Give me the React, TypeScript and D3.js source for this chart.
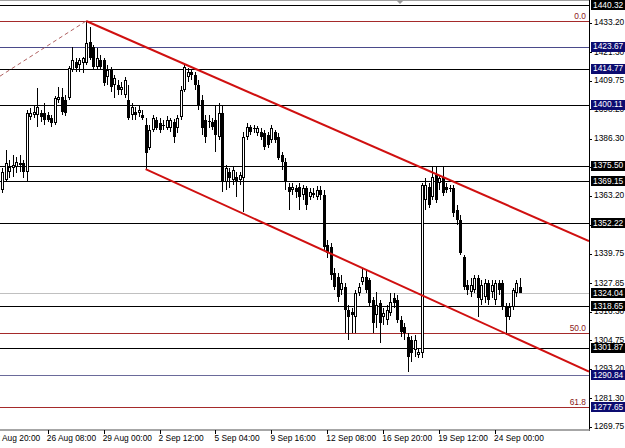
import React from "react";
import * as d3 from "d3";

// ---- data (XAUUSD H4, prices) ----
const opens = [1365.6,1369.7,1372.9,1374.5,1374.9,1376.5,1376.5,1372.9,1395.2,1396.0,1396.0,1396.8,1396.8,1396.0,1394.8,1392.7,1402.0,1403.3,1402.0,1402.9,1414.2,1417.4,1416.2,1417.0,1417.0,1425.5,1423.5,1415.4,1418.2,1418.2,1411.3,1414.2,1408.1,1408.1,1406.1,1404.1,1402.0,1396.0,1397.2,1396.8,1396.0,1391.9,1382.6,1389.9,1394.0,1392.7,1391.5,1390.7,1390.7,1393.1,1390.7,1395.2,1406.1,1411.3,1413.4,1412.2,1408.1,1402.0,1394.0,1393.1,1393.1,1394.0,1387.1,1396.8,1368.9,1372.9,1369.7,1370.9,1369.7,1370.5,1387.1,1391.1,1390.7,1388.7,1389.1,1388.7,1387.9,1385.9,1389.1,1387.1,1379.8,1377.0,1366.8,1365.6,1366.4,1366.8,1363.6,1366.4,1362.8,1364.4,1362.8,1365.6,1363.6,1343.4,1342.6,1332.0,1330.4,1325.2,1326.4,1317.1,1316.3,1314.2,1324.0,1328.4,1330.4,1329.2,1321.1,1315.1,1319.9,1314.2,1313.0,1315.9,1322.0,1321.1,1313.0,1310.2,1306.2,1304.9,1300.9,1298.9,1299.7,1361.6,1366.8,1362.8,1371.7,1368.5,1370.9,1366.8,1366.4,1366.4,1357.5,1353.5,1338.5,1327.2,1324.4,1325.2,1330.0,1321.1,1322.3,1328.0,1324.4,1321.1,1328.0,1328.0,1318.3,1314.2,1318.3,1324.0,1326.4];
const highs = [1374.5,1381.8,1377.8,1379.8,1379.0,1379.8,1377.8,1398.0,1398.8,1400.0,1406.9,1398.0,1400.8,1397.2,1396.0,1403.7,1407.3,1406.9,1404.1,1415.8,1423.5,1419.0,1419.0,1419.4,1434.0,1431.6,1424.3,1423.1,1420.2,1419.0,1416.2,1415.4,1412.2,1410.1,1409.3,1411.3,1408.1,1400.8,1399.2,1400.0,1398.0,1394.8,1391.9,1396.0,1395.2,1394.8,1394.0,1395.6,1394.8,1394.4,1396.0,1407.7,1416.2,1415.0,1414.2,1413.4,1410.1,1404.1,1396.0,1396.0,1394.8,1400.0,1400.8,1400.0,1375.7,1374.5,1374.9,1372.9,1372.9,1389.1,1392.7,1391.9,1391.9,1391.5,1390.7,1389.9,1389.1,1391.9,1389.9,1388.7,1381.0,1378.6,1368.5,1368.5,1367.7,1368.5,1367.7,1367.2,1366.4,1366.4,1367.2,1367.2,1365.6,1345.4,1344.2,1334.1,1332.0,1331.2,1328.0,1319.1,1317.9,1325.2,1328.0,1334.1,1333.3,1330.0,1322.3,1324.4,1321.1,1317.9,1319.1,1324.0,1324.0,1323.1,1314.6,1311.8,1307.8,1306.6,1307.0,1301.7,1368.5,1370.5,1368.5,1374.9,1374.9,1371.7,1374.9,1368.5,1367.7,1367.7,1359.6,1355.5,1339.3,1329.2,1330.0,1331.2,1331.2,1329.2,1329.6,1329.2,1329.2,1329.2,1329.2,1329.2,1319.9,1319.9,1326.0,1329.2,1330.0];
const lows = [1364.4,1368.9,1370.5,1370.9,1372.5,1372.9,1370.5,1368.9,1394.0,1394.8,1391.1,1393.1,1391.9,1393.1,1391.1,1391.9,1400.8,1396.0,1395.6,1402.0,1413.4,1413.4,1413.4,1413.0,1416.2,1418.2,1414.6,1414.6,1414.2,1407.7,1408.1,1405.3,1402.9,1404.1,1404.1,1402.9,1394.0,1394.0,1394.0,1395.2,1394.0,1374.1,1381.8,1389.1,1389.9,1388.7,1389.9,1389.9,1389.1,1384.6,1388.7,1394.0,1405.3,1409.3,1410.1,1406.1,1398.0,1387.9,1384.6,1390.7,1389.9,1381.0,1385.9,1364.8,1365.6,1366.4,1367.7,1362.8,1367.7,1356.7,1385.9,1387.9,1388.7,1387.5,1385.9,1381.8,1382.6,1384.6,1384.6,1377.8,1373.7,1365.6,1357.5,1363.6,1362.4,1357.5,1361.6,1357.5,1361.6,1362.4,1361.6,1361.6,1341.3,1338.1,1329.2,1325.2,1320.3,1323.1,1307.8,1304.9,1307.8,1307.8,1322.7,1327.2,1324.0,1318.7,1307.8,1309.8,1303.7,1311.0,1311.0,1314.6,1317.9,1311.8,1306.2,1304.9,1292.0,1296.0,1298.1,1297.7,1297.7,1357.5,1358.3,1361.6,1360.4,1365.6,1363.2,1364.4,1364.8,1354.7,1351.5,1339.3,1325.2,1323.1,1322.3,1324.0,1314.2,1319.1,1319.9,1319.1,1322.0,1319.1,1323.1,1317.1,1307.0,1313.0,1317.1,1322.3,1324.0];
const closes = [1372.9,1376.5,1374.9,1375.7,1377.0,1375.7,1372.9,1396.8,1396.8,1397.2,1399.2,1395.2,1394.0,1394.0,1392.7,1402.9,1403.3,1397.2,1396.8,1415.0,1418.2,1415.0,1418.2,1419.0,1425.1,1419.0,1415.4,1419.0,1415.4,1408.9,1414.2,1407.3,1410.9,1406.1,1407.3,1410.1,1394.8,1399.2,1396.0,1398.0,1394.8,1380.6,1389.9,1394.8,1390.7,1389.9,1391.9,1394.0,1394.0,1387.1,1394.8,1406.1,1415.4,1413.4,1412.2,1408.1,1400.0,1390.7,1387.1,1393.5,1391.1,1387.9,1396.8,1368.9,1374.5,1370.5,1373.7,1368.9,1371.7,1387.1,1391.1,1389.1,1390.3,1390.7,1387.1,1383.0,1383.8,1390.7,1385.9,1378.6,1377.0,1368.9,1364.8,1366.8,1364.8,1362.8,1366.4,1359.6,1364.8,1363.6,1365.6,1363.6,1342.6,1340.1,1331.2,1326.4,1322.3,1328.0,1317.1,1314.2,1315.1,1324.0,1326.4,1330.4,1325.2,1319.9,1311.8,1319.1,1311.8,1315.9,1317.1,1320.3,1319.9,1313.0,1308.2,1307.8,1298.1,1299.7,1304.9,1300.1,1367.7,1367.7,1359.6,1370.9,1361.6,1370.5,1364.4,1365.6,1366.0,1356.3,1353.5,1340.1,1326.4,1325.2,1327.2,1330.0,1322.0,1327.2,1328.0,1321.1,1327.2,1328.0,1325.2,1318.3,1314.2,1318.3,1325.2,1328.0,1324.04];

const timeLabels = ["22 Aug 20:00","26 Aug 08:00","29 Aug 00:00","2 Sep 12:00","5 Sep 04:00","9 Sep 16:00","12 Sep 08:00","16 Sep 20:00","19 Sep 12:00","24 Sep 00:00"];
const timeLabelBars = [-3, 13, 29, 45, 61, 77, 93, 109, 125, 141];

const priceTicks = [1433.20,1421.30,1409.75,1398.20,1386.30,1374.75,1363.20,1351.30,1339.75,1327.85,1316.30,1304.75,1293.20,1281.30,1269.75];

const levelPrices = [1440.32,1423.67,1414.77,1400.11,1375.50,1369.15,1352.22,1324.04,1318.65,1301.87,1290.84,1277.65];

const fibLevels = [0, 50, 61.8];
const fibHigh = { bar: 24, price: 1434.0 };
const fibLow = { bar: -255, price: 1181.6 };

const upperChannel = [{ bar: 24, price: 1434.0 }, { bar: 148, price: 1357.3 }];
const lowerChannel = [{ bar: 41, price: 1374.1 }, { bar: 148, price: 1305.0 }];

// ---- styles ----
const levelLineColors = ["#000","#4a4a8a","#000","#000","#000","#000","#000","#c0c0c0","#000","#000","#6a6a9a","#101040"];
const levelBoxColors = ["#000","#0c0c70","#0c0c70","#0c0c70","#000","#000","#000","#000","#000","#000","#0c0c70","#0c0c70"];

const W = 625, H = 448;
const PR = 589, PB = 429;
const FONT = "'Liberation Sans', Arial, sans-serif";
const FS = 8.4;

export default function App() {
  const N = opens.length;
  const x = d3.scaleLinear().domain([0, N - 1]).range([2.3, 2.3 + 3.495 * (N - 1)]);
  const y = d3.scaleLinear().domain([1268.94, 1442.5]).range([PB, 0]);
  const rightBar = x.invert(PR);
  const leftBar = x.invert(0);

  const extend = (a: { bar: number; price: number }, b: { bar: number; price: number }, from: number, to: number) => {
    const s = (b.price - a.price) / (b.bar - a.bar);
    return [from, a.price + s * (from - a.bar), to, a.price + s * (to - a.bar)];
  };
  const up = extend(upperChannel[0], upperChannel[1], upperChannel[0].bar, rightBar);
  const lo = extend(lowerChannel[0], lowerChannel[1], lowerChannel[0].bar, rightBar);
  const fibDash = extend(fibLow, fibHigh, leftBar, fibHigh.bar);
  const fibPrice = (l: number) => fibHigh.price - (l / 100) * (fibHigh.price - fibLow.price);
  const line = d3.line<[number, number]>();

  const crisp = (v: number) => Math.round(v) + 0.5;

  return (
    <svg width={W} height={H} style={{ position: "absolute", left: 0, top: 0, background: "#fff" }} fontFamily={FONT}>
      <defs>
        <clipPath id="plot"><rect x={0} y={0} width={PR} height={PB + 1} /></clipPath>
      </defs>
      <rect x={0} y={0} width={W} height={H} fill="#fff" />
      <line x1={0} x2={PR} y1={0.5} y2={0.5} stroke="#a0a0a0" />
      <g clipPath="url(#plot)">
        {levelPrices.map((p, k) => (
          <line key={"lv" + k} x1={0} x2={PR} y1={crisp(y(p))} y2={crisp(y(p))} stroke={levelLineColors[k]} strokeWidth={1} shapeRendering="crispEdges" />
        ))}
        {fibLevels.map((l, k) => (
          <line key={"fb" + k} x1={0} x2={PR} y1={crisp(y(fibPrice(l)))} y2={crisp(y(fibPrice(l)))} stroke="#a52a2a" strokeWidth={1} shapeRendering="crispEdges" />
        ))}
        <path d={line([[x(fibDash[0]), y(fibDash[1])], [x(fibDash[2]), y(fibDash[3])]]) || ""} stroke="#b06060" strokeWidth={1} strokeDasharray="4,3" fill="none" />
        {opens.map((o, i) => {
          const c = closes[i];
          const cx = Math.round(x(i));
          const yt = Math.round(y(Math.max(o, c)));
          const yb = Math.round(y(Math.min(o, c)));
          const h = Math.max(1, yb - yt);
          const bull = c >= o;
          return (
            <g key={"c" + i} shapeRendering="crispEdges">
              <line x1={cx + 0.5} x2={cx + 0.5} y1={Math.round(y(highs[i]))} y2={Math.round(y(lows[i]))} stroke="#000" strokeWidth={1} />
              {bull && h > 2 ? (
                <rect x={cx - 0.5} y={yt + 0.5} width={2} height={h - 1} fill="#fff" stroke="#000" strokeWidth={1} />
              ) : (
                <rect x={cx - 1} y={yt} width={3} height={h} fill="#000" />
              )}
            </g>
          );
        })}
        <path d={line([[x(up[0]), y(up[1])], [x(up[2]), y(up[3])]]) || ""} stroke="#d01010" strokeWidth={2} fill="none" />
        <path d={line([[x(lo[0]), y(lo[1])], [x(lo[2]), y(lo[3])]]) || ""} stroke="#d01010" strokeWidth={2} fill="none" />
        {fibLevels.map((l, k) => (
          <text key={"ft" + k} x={PR - 3} y={y(fibPrice(l)) - 2} textAnchor="end" fontSize={FS} fill="#8b2020">{l.toFixed(1)}</text>
        ))}
      </g>
      <polygon points="396,0 404,0 400,4" fill="#9a9a9a" />
      {/* axes */}
      <line x1={PR + 0.5} x2={PR + 0.5} y1={0} y2={PB + 2} stroke="#000" strokeWidth={1} />
      <line x1={0} x2={PR + 1} y1={PB + 1} y2={PB + 1} stroke="#888" strokeWidth={1.5} />
      {priceTicks.map((p, k) => (
        <g key={"pt" + k}>
          <line x1={PR} x2={PR + 3} y1={crisp(y(p))} y2={crisp(y(p))} stroke="#000" shapeRendering="crispEdges" />
          <text x={PR + 5} y={y(p)} dominantBaseline="middle" fontSize={FS} fill="#000">{p.toFixed(2)}</text>
        </g>
      ))}
      {levelPrices.map((p, k) => (
        <g key={"lb" + k}>
          <rect x={PR + 2} y={Math.round(y(p)) - 5} width={W - PR - 2} height={10} fill={levelBoxColors[k]} />
          <text x={PR + 4} y={y(p) + 0.5} dominantBaseline="middle" fontSize={FS} fill="#fff">{p.toFixed(2)}</text>
        </g>
      ))}
      {timeLabels.map((t, k) => (
        <g key={"tl" + k}>
          <line x1={crisp(x(timeLabelBars[k]))} x2={crisp(x(timeLabelBars[k]))} y1={PB + 1} y2={PB + 5} stroke="#000" shapeRendering="crispEdges" />
          <text x={x(timeLabelBars[k]) - 1} y={PB + 12} fontSize={FS} fill="#000">{t}</text>
        </g>
      ))}
    </svg>
  );
}
